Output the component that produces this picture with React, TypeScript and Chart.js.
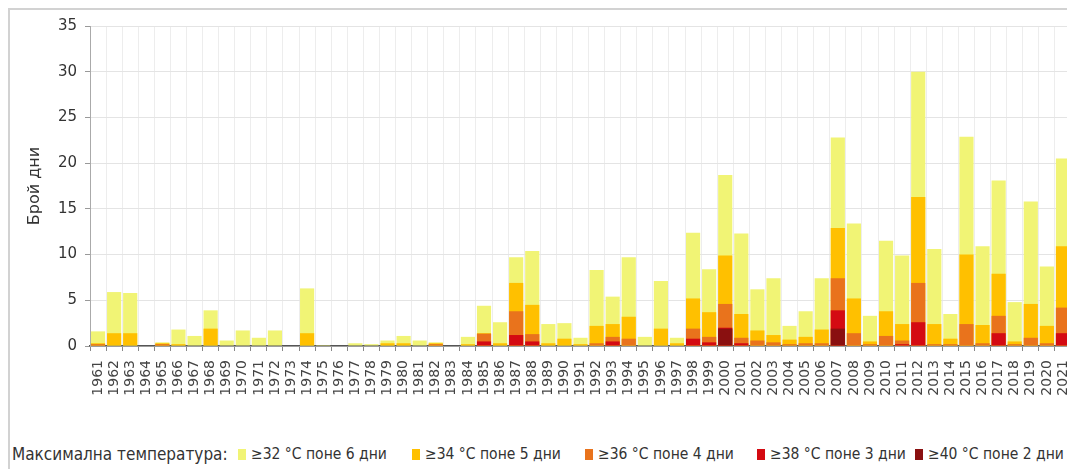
import React, { useEffect, useRef } from 'react';
import { Chart, registerables } from 'chart.js';

Chart.register(...registerables);

const years = [
  '1961', '1962', '1963', '1964', '1965', '1966', '1967', '1968', '1969', '1970',
  '1971', '1972', '1973', '1974', '1975', '1976', '1977', '1978', '1979', '1980',
  '1981', '1982', '1983', '1984', '1985', '1986', '1987', '1988', '1989', '1990',
  '1991', '1992', '1993', '1994', '1995', '1996', '1997', '1998', '1999', '2000',
  '2001', '2002', '2003', '2004', '2005', '2006', '2007', '2008', '2009', '2010',
  '2011', '2012', '2013', '2014', '2015', '2016', '2017', '2018', '2019', '2020',
  '2021',
];

// брой дни за всеки праг (вложени стойности, рисувани една върху друга)
const days32 = [
  1.6, 5.9, 5.8, 0, 0.4, 1.8, 1.1, 3.9, 0.6, 1.7,
  0.9, 1.7, 0, 6.3, 0.1, 0, 0.3, 0.2, 0.6, 1.1,
  0.6, 0.4, 0, 1.0, 4.4, 2.6, 9.7, 10.4, 2.4, 2.5,
  0.9, 8.3, 5.4, 9.7, 1.0, 7.1, 0.9, 12.4, 8.4, 18.7,
  12.3, 6.2, 7.4, 2.2, 3.8, 7.4, 22.8, 13.4, 3.3, 11.5,
  9.9, 30.0, 10.6, 3.5, 22.9, 10.9, 18.1, 4.8, 15.8, 8.7,
  20.5,
];
const days34 = [
  0.3, 1.4, 1.4, 0, 0.3, 0.2, 0, 1.9, 0, 0,
  0, 0, 0, 1.4, 0, 0, 0, 0, 0.3, 0.3,
  0, 0.3, 0, 0.2, 1.4, 0.3, 6.9, 4.5, 0.3, 0.8,
  0.2, 2.2, 2.4, 3.2, 0, 1.9, 0.3, 5.2, 3.7, 9.9,
  3.5, 1.7, 1.2, 0.7, 1.0, 1.8, 12.9, 5.2, 0.5, 3.8,
  2.4, 16.3, 2.4, 0.8, 10.0, 2.3, 7.9, 0.5, 4.6, 2.2,
  10.9,
];
const days36 = [
  0.2, 0, 0, 0, 0.2, 0, 0, 0, 0, 0,
  0, 0, 0, 0, 0, 0, 0, 0, 0, 0,
  0, 0.2, 0, 0, 1.35, 0, 3.8, 1.3, 0, 0,
  0, 0.3, 1.0, 0.8, 0, 0, 0, 1.9, 1.0, 4.6,
  0.9, 0.6, 0.4, 0.2, 0.3, 0.3, 7.4, 1.4, 0.2, 1.1,
  0.6, 6.9, 0.2, 0.2, 2.4, 0.3, 3.3, 0.2, 0.9, 0.3,
  4.2,
];
const days38 = [
  0, 0, 0, 0, 0, 0, 0, 0, 0, 0,
  0, 0, 0, 0, 0, 0, 0, 0, 0, 0,
  0, 0, 0, 0, 0.5, 0, 1.2, 0.5, 0, 0,
  0, 0, 0.5, 0, 0, 0, 0, 0.8, 0.4, 2.0,
  0.3, 0, 0, 0, 0, 0, 3.9, 0, 0, 0,
  0.2, 2.6, 0, 0, 0, 0, 1.4, 0, 0, 0,
  1.4,
];
const days40 = [
  0, 0, 0, 0, 0, 0, 0, 0, 0, 0,
  0, 0, 0, 0, 0, 0, 0, 0, 0, 0,
  0, 0, 0, 0, 0, 0, 0, 0, 0, 0,
  0, 0, 0, 0, 0, 0, 0, 0, 0, 1.9,
  0, 0, 0, 0, 0, 0, 1.9, 0, 0, 0,
  0, 0, 0, 0, 0, 0, 0, 0, 0, 0,
  0,
];

const seriesLabels = [
  '≥32 °C поне 6 дни',
  '≥34 °C поне 5 дни',
  '≥36 °C поне 4 дни',
  '≥38 °C поне 3 дни',
  '≥40 °C поне 2 дни',
];
const colors = ['#F1F475', '#FFC000', '#E9731C', '#D40A12', '#8A1010'];
const yTicks = [0, 5, 10, 15, 20, 25, 30, 35];

const legendLeft = [238, 412, 585, 757, 915];

const App = () => {
  const chartRef = useRef<HTMLCanvasElement | null>(null);

  useEffect(() => {
    const ctx = chartRef.current?.getContext('2d');
    if (!ctx) return;
    const values = [days32, days34, days36, days38, days40];
    const chart = new Chart(ctx, {
      type: 'bar',
      data: {
        labels: years,
        datasets: values.map((v, i) => ({
          label: seriesLabels[i],
          data: v,
          backgroundColor: colors[i],
          borderWidth: 0,
          grouped: false,
          order: 5 - i,
          categoryPercentage: 1,
          barPercentage: 0.88,
        })),
      },
      options: {
        responsive: false,
        animation: false,
        layout: { padding: { left: 8, right: 4, top: 26, bottom: 4 } },
        plugins: {
          legend: { display: false },
          tooltip: { enabled: false },
        },
        scales: {
          x: {
            grid: { color: '#ededed', tickColor: '#888', tickLength: 5, offset: true },
            border: { color: '#555', width: 1.5 },
            ticks: {
              autoSkip: false,
              minRotation: 90,
              maxRotation: 90,
              padding: 9,
              color: '#444',
              font: { family: 'DejaVu Sans', size: 14 },
            },
            afterFit: (s: any) => {
              s.height = 60;
              s.paddingLeft = 0;
              s.paddingRight = 0;
            },
          },
          y: {
            min: 0,
            max: 35,
            afterBuildTicks: (s: any) => { s.ticks = yTicks.map((v) => ({ value: v })); },
            grid: { color: '#e4e4e4', tickColor: '#999', tickLength: 5 },
            border: { color: '#aaa' },
            ticks: {
              padding: 8,
              color: '#333',
              font: { family: 'DejaVu Sans', size: 15 },
            },
            title: {
              display: true,
              text: 'Брой дни',
              color: '#333',
              padding: { top: 17, bottom: 0 },
              font: { family: 'DejaVu Sans', size: 16 },
            },
            afterFit: (s: any) => { s.width = 82; },
          },
        },
      },
    });
    return () => chart.destroy();
  }, []);

  return (
    <div style={{ position: 'relative', margin: '-8px 0 0 -8px', width: 1075, height: 469, overflow: 'hidden', background: '#fff' }}>
      <div style={{ position: 'absolute', left: 8, top: 8, width: 1067, height: 461, borderTop: '2px solid #d2d2d2', borderLeft: '2px solid #d2d2d2', boxSizing: 'border-box' }} />
      <canvas ref={chartRef} width={1075} height={410} style={{ position: 'absolute', left: 0, top: 0 }} />
      <div style={{ position: 'absolute', left: 0, top: 444, width: 1075, height: 24, fontFamily: '"DejaVu Sans Condensed", sans-serif', color: '#333', whiteSpace: 'nowrap' }}>
        <span style={{ position: 'absolute', left: 12, top: 0, fontSize: 17 }}>Максимална температура:</span>
        {seriesLabels.map((l, i) => (
          <span key={l} style={{ position: 'absolute', left: legendLeft[i], top: 1, fontSize: 15.5, display: 'flex', alignItems: 'center' }}>
            <span style={{ display: 'inline-block', width: 8, height: 11, background: colors[i], marginRight: 5 }} />
            {l}
          </span>
        ))}
      </div>
    </div>
  );
};

export default App;
